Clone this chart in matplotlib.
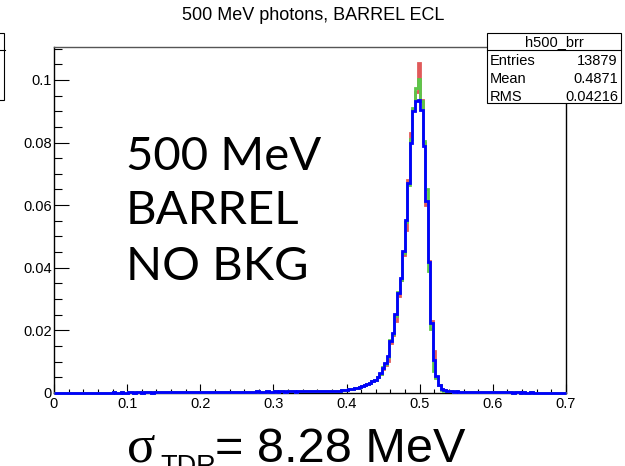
import matplotlib
matplotlib.use('Agg')
import numpy as np
import matplotlib.pyplot as plt
from matplotlib.patches import Rectangle
from matplotlib.lines import Line2D
from matplotlib.ticker import MultipleLocator, FuncFormatter

# histogram: 200 bins on [0, 0.7], unit normalised
n_bins = 200
x_lo, x_hi = 0.0, 0.7

# bins 0..126 (low-energy tail, same for all three)
left_tail = [
    0.0001, 0.0000, 0.0001, 0.0001, 0.0000, 0.0001, 0.0001, 0.0001, 0.0000, 0.0001,
    0.0001, 0.0001, 0.0000, 0.0001, 0.0001, 0.0001, 0.0001, 0.0000, 0.0001, 0.0001,
    0.0001, 0.0001, 0.0001, 0.0002, 0.0001, 0.0001, 0.0002, 0.0001, 0.0001, 0.0002,
    0.0002, 0.0001, 0.0002, 0.0002, 0.0001, 0.0002, 0.0002, 0.0002, 0.0001, 0.0002,
    0.0002, 0.0002, 0.0003, 0.0002, 0.0002, 0.0003, 0.0002, 0.0003, 0.0003, 0.0002,
    0.0003, 0.0003, 0.0002, 0.0003, 0.0003, 0.0004, 0.0003, 0.0003, 0.0003, 0.0004,
    0.0003, 0.0004, 0.0003, 0.0004, 0.0003, 0.0003, 0.0004, 0.0004, 0.0003, 0.0004,
    0.0004, 0.0003, 0.0004, 0.0004, 0.0004, 0.0003, 0.0004, 0.0004, 0.0004, 0.0005,
    0.0004, 0.0004, 0.0004, 0.0005, 0.0004, 0.0004, 0.0005, 0.0004, 0.0005, 0.0005,
    0.0004, 0.0005, 0.0005, 0.0005, 0.0004, 0.0005, 0.0005, 0.0005, 0.0006, 0.0005,
    0.0005, 0.0006, 0.0005, 0.0006, 0.0006, 0.0005, 0.0006, 0.0006, 0.0006, 0.0007, 0.0006,
    0.0007, 0.0008, 0.0009, 0.0011, 0.0012, 0.0014, 0.0016, 0.0017, 0.0020, 0.0022,
    0.0026, 0.0028, 0.0033, 0.0038, 0.0043, 0.0052,
]

# bins 127..152 (peak region)
red_peak = [0.0060, 0.0078, 0.0090, 0.0101, 0.0160, 0.0185, 0.0229, 0.0310, 0.0360, 0.0440,
            0.0520, 0.0680, 0.0830, 0.0905, 0.0960, 0.1054, 0.0935, 0.0800, 0.0600, 0.0420,
            0.0230, 0.0135, 0.0050, 0.0025, 0.0013, 0.0008]
green_peak = [0.0062, 0.0082, 0.0094, 0.0115, 0.0170, 0.0188, 0.0245, 0.0322, 0.0362, 0.0447,
              0.0545, 0.0665, 0.0810, 0.0910, 0.0974, 0.1003, 0.0932, 0.0805, 0.0650, 0.0390,
              0.0205, 0.0070, 0.0048, 0.0024, 0.0011, 0.0007]
blue_peak = [0.0064, 0.0080, 0.0096, 0.0119, 0.0165, 0.0192, 0.0253, 0.0319, 0.0367, 0.0453,
             0.0554, 0.0671, 0.0799, 0.0900, 0.0932, 0.0935, 0.0905, 0.0788, 0.0612, 0.0417,
             0.0224, 0.0106, 0.0053, 0.0027, 0.0012, 0.0008]

# bins 153..199 (high-energy tail)
right_tail = [
    0.0006, 0.0005, 0.0005, 0.0004, 0.0005, 0.0004, 0.0004, 0.0004, 0.0003, 0.0004,
    0.0003, 0.0004, 0.0003, 0.0003, 0.0003, 0.0002, 0.0003, 0.0003, 0.0002, 0.0003,
    0.0002, 0.0002, 0.0003, 0.0002, 0.0002, 0.0002, 0.0001, 0.0002, 0.0002, 0.0001,
    0.0002, 0.0001, 0.0001, 0.0002, 0.0001, 0.0001, 0.0001, 0.0001, 0.0001, 0.0001,
    0.0001, 0.0001, 0.0000, 0.0001, 0.0001, 0.0000, 0.0001,
]

stats_name = "h500_brr"
stats_rows = [("Entries", "13879"), ("Mean", "0.4871"), ("RMS", "0.04216")]
title = "500 MeV photons, BARREL ECL"
big_lines = ["500 MeV", "BARREL", "NO BKG"]

W, H = 625, 466
plt.rcParams['font.family'] = ['Liberation Sans', 'DejaVu Sans']


def fx(x):
    return x / W


def fy(y):
    return 1 - y / H


fig = plt.figure(figsize=(W / 100, H / 100), dpi=100)
ax = fig.add_axes([fx(54), fy(393), (566 - 54) / W, (393 - 47) / H])

edges = np.linspace(x_lo, x_hi, n_bins + 1)
red = np.array(left_tail + red_peak + right_tail)
green = np.array(left_tail + green_peak + right_tail)
blue = np.array(left_tail + blue_peak + right_tail)

ax.stairs(red, edges, color='#e05a5a', lw=2.0, clip_on=False, zorder=3)
ax.stairs(green, edges, color='#5cc74a', lw=2.0, clip_on=False, zorder=4)
ax.stairs(blue, edges, color='#0000ff', lw=2.0, clip_on=False, zorder=5)

ax.set_xlim(0, 0.7)
ax.set_ylim(0, 0.1105)
ax.xaxis.set_major_locator(MultipleLocator(0.1))
ax.xaxis.set_minor_locator(MultipleLocator(0.02))
ax.yaxis.set_major_locator(MultipleLocator(0.02))
ax.yaxis.set_minor_locator(MultipleLocator(0.005))
fmt = FuncFormatter(lambda v, p: '%g' % round(v, 6))
ax.xaxis.set_major_formatter(fmt)
ax.yaxis.set_major_formatter(fmt)

ax.tick_params(which='both', direction='in', top=False, right=False,
               labelsize=10.5, width=0.8, color='black')
ax.tick_params(axis='y', which='major', length=10.8, pad=1.5)
ax.tick_params(axis='y', which='minor', length=5.8)
ax.tick_params(axis='x', which='major', length=6.5, pad=3)
ax.tick_params(axis='x', which='minor', length=3.2)
for s in ax.spines.values():
    s.set_linewidth(1.0)
    s.set_color('black')
ax.spines['top'].set_color('#555555')

fig.text(fx(313), fy(15), title, ha='center', va='center', fontsize=13)

# stats box
fig.add_artist(Rectangle((fx(487), fy(103)), (621 - 487) / W, (103 - 33) / H,
                         transform=fig.transFigure, fc='white', ec='black', lw=0.8, zorder=10))
fig.add_artist(Line2D([fx(487), fx(621)], [fy(50), fy(50)], color='black', lw=0.8, zorder=11))
fig.text(fx(554), fy(42), stats_name, ha='center', va='center', fontsize=10.5, zorder=12)
for i, (k, v) in enumerate(stats_rows):
    yy = 61 + i * 18
    fig.text(fx(490), fy(yy), k, ha='left', va='center', fontsize=10.5, zorder=12)
    fig.text(fx(618), fy(yy), v, ha='right', va='center', fontsize=10.5, zorder=12)

# clipped box at the left edge
fig.add_artist(Rectangle((fx(-120), fy(100)), 124.5 / W, 67 / H,
                         transform=fig.transFigure, fc='white', ec='black', lw=0.8, zorder=10))
fig.add_artist(Line2D([0, fx(4.5)], [fy(50), fy(50)], color='black', lw=0.8, zorder=11))

# big annotation
for line, base in zip(big_lines, [170, 224, 280]):
    fig.text(fx(126), fy(base), line, ha='left', va='baseline', fontsize=34,
             family=['Lato', 'DejaVu Sans'], zorder=12)

# sigma_TDR text
fig.text(fx(127), fy(462), '\u03c3', ha='left', va='baseline', fontsize=38,
         family=['Liberation Serif', 'DejaVu Serif'])
fig.text(fx(160), fy(474), 'TDR', ha='left', va='baseline', fontsize=19.5)
fig.text(fx(215), fy(462), '= 8.28 MeV', ha='left', va='baseline', fontsize=35)

fig.savefig('out.png', dpi=100)
